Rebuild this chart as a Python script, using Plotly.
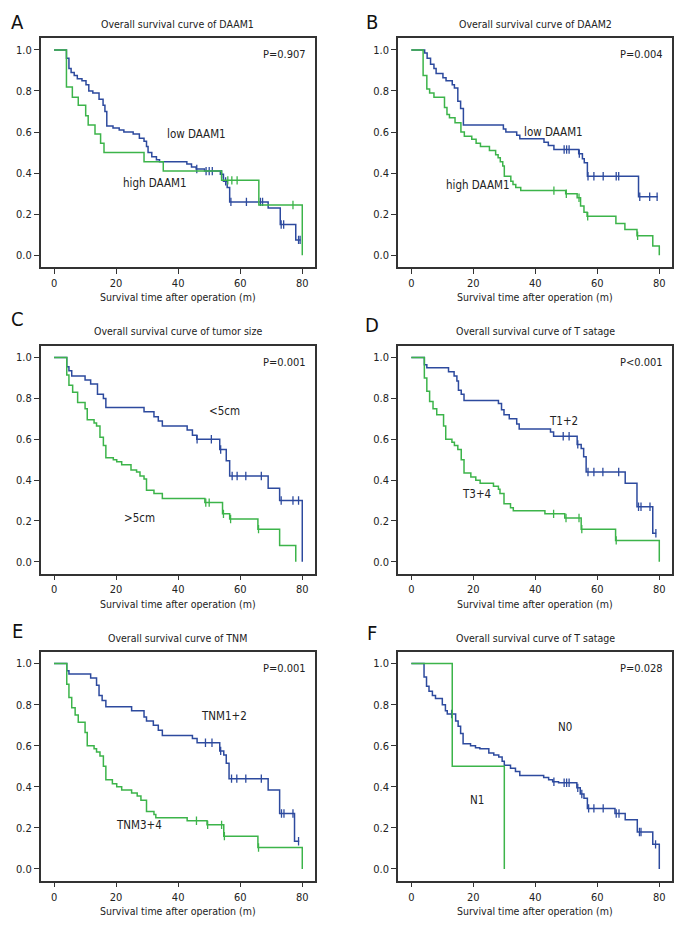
import numpy as np
import plotly.graph_objects as go
from plotly.subplots import make_subplots

# ---------------- data ----------------
# Panel A: DAAM1
a_low_t = [0, 4.0, 4.8, 5.5, 6.5, 7.5, 9.0, 10.3, 11.2, 12.5, 14.5, 15.8, 16.4, 17.0, 19.0, 21.0, 22.5, 25.5, 27.5, 29.0, 29.8, 30.3, 31.5, 33.0, 34.0, 42.8, 44.3, 45.8, 48.5, 53.6, 54.6, 55.8, 56.6, 69.0, 72.9, 77.9, 79.5]
a_low_s = [1.0, 0.96, 0.91, 0.89, 0.875, 0.86, 0.85, 0.83, 0.80, 0.79, 0.76, 0.73, 0.70, 0.63, 0.62, 0.61, 0.60, 0.59, 0.57, 0.555, 0.53, 0.50, 0.48, 0.465, 0.455, 0.445, 0.43, 0.42, 0.41, 0.395, 0.36, 0.33, 0.26, 0.23, 0.15, 0.075, 0.075]
a_low_c = [46.0, 49.0, 50.0, 51.0, 54.0, 55.3, 57.0, 62.0, 66.5, 67.2, 73.2, 74.0, 78.8, 79.3]
a_high_t = [0, 4.0, 5.9, 7.8, 10.2, 11.0, 13.2, 15.0, 16.1, 29.0, 35.2, 54.0, 66.0, 80.0]
a_high_s = [1.0, 0.82, 0.77, 0.73, 0.68, 0.635, 0.59, 0.545, 0.50, 0.455, 0.41, 0.365, 0.245, 0.0]
a_high_c = [56.0, 57.3, 59.0, 77.0]

# Panel B: DAAM2
b_low_t = [0, 4.3, 5.1, 6.2, 7.3, 8.0, 10.2, 11.2, 13.2, 13.9, 15.0, 15.9, 16.8, 29.7, 30.5, 34.0, 35.0, 42.8, 44.2, 46.0, 54.0, 55.2, 55.8, 56.8, 73.3, 79.5]
b_low_s = [1.0, 0.985, 0.96, 0.93, 0.91, 0.885, 0.865, 0.85, 0.83, 0.815, 0.75, 0.715, 0.635, 0.615, 0.60, 0.585, 0.567, 0.55, 0.535, 0.515, 0.495, 0.47, 0.45, 0.385, 0.285, 0.285]
b_low_c = [49.3, 50.1, 50.9, 54.2, 57.0, 58.9, 61.9, 66.1, 66.9, 73.7, 76.9, 79.3]
b_high_t = [0, 3.8, 5.0, 5.9, 7.3, 10.7, 11.5, 12.3, 14.1, 16.0, 17.1, 19.5, 20.9, 22.3, 25.2, 27.2, 28.0, 28.7, 29.5, 30.0, 32.1, 32.8, 33.7, 35.3, 49.8, 53.5, 54.6, 55.7, 56.7, 66.0, 68.9, 72.8, 77.9, 80.0]
b_high_s = [1.0, 0.875, 0.81, 0.79, 0.77, 0.72, 0.685, 0.67, 0.645, 0.60, 0.58, 0.565, 0.545, 0.53, 0.51, 0.49, 0.475, 0.455, 0.435, 0.385, 0.36, 0.345, 0.33, 0.315, 0.30, 0.28, 0.24, 0.21, 0.19, 0.155, 0.125, 0.095, 0.045, 0.0]
b_high_c = [46.0, 50.0, 54.1, 56.9, 73.0]

# Panel C: tumor size
c_small_t = [0, 4.1, 4.8, 5.7, 10.0, 11.8, 14.0, 15.9, 16.7, 29.0, 32.2, 33.6, 34.9, 42.9, 44.6, 46.0, 53.4, 55.5, 56.6, 69.0, 72.7, 80.0]
c_small_s = [1.0, 0.955, 0.935, 0.91, 0.89, 0.87, 0.82, 0.80, 0.755, 0.735, 0.71, 0.69, 0.665, 0.645, 0.62, 0.60, 0.55, 0.495, 0.42, 0.36, 0.30, 0.0]
c_small_c = [46.1, 50.7, 53.7, 57.4, 59.0, 61.8, 66.8, 73.2, 77.0, 78.8]
c_large_t = [0, 4.1, 4.8, 6.0, 7.6, 10.0, 10.7, 12.9, 13.7, 14.8, 15.9, 16.7, 19.1, 20.2, 21.8, 24.8, 26.6, 27.7, 29.0, 29.8, 32.2, 34.9, 48.6, 54.3, 56.6, 65.7, 72.7, 77.9]
c_large_s = [1.0, 0.915, 0.865, 0.83, 0.78, 0.75, 0.695, 0.68, 0.665, 0.61, 0.57, 0.51, 0.50, 0.49, 0.475, 0.45, 0.44, 0.42, 0.405, 0.35, 0.335, 0.31, 0.29, 0.235, 0.21, 0.16, 0.08, 0.0]
c_large_c = [48.9, 50.0, 54.6, 56.9, 65.9]

# Panel D: T stage
d_t12_t = [0, 4.2, 5.0, 12.0, 13.8, 14.7, 15.2, 16.1, 17.0, 28.1, 29.1, 29.9, 31.6, 34.0, 34.8, 44.9, 45.9, 53.5, 54.8, 55.6, 56.4, 69.0, 72.8, 77.9, 79.0]
d_t12_s = [1.0, 0.965, 0.95, 0.93, 0.91, 0.885, 0.84, 0.82, 0.79, 0.775, 0.745, 0.72, 0.70, 0.675, 0.65, 0.635, 0.615, 0.575, 0.555, 0.515, 0.44, 0.385, 0.27, 0.14, 0.14]
d_t12_c = [49.0, 50.9, 53.7, 57.0, 58.9, 61.8, 66.9, 73.3, 74.1, 77.0, 78.9]
d_t34_t = [0, 4.2, 5.0, 5.9, 7.0, 8.2, 10.4, 11.1, 13.1, 13.9, 15.0, 16.1, 17.0, 19.2, 20.8, 22.2, 26.5, 28.1, 28.6, 29.9, 32.0, 32.9, 43.1, 49.5, 54.8, 65.9, 80.0]
d_t34_s = [1.0, 0.90, 0.835, 0.785, 0.75, 0.72, 0.665, 0.60, 0.585, 0.57, 0.55, 0.50, 0.435, 0.415, 0.40, 0.385, 0.37, 0.355, 0.335, 0.285, 0.265, 0.25, 0.235, 0.215, 0.16, 0.105, 0.0]
d_t34_c = [45.9, 49.9, 54.1, 55.0, 66.1]

# Panel E: TNM
e_12_t = [0, 4.1, 4.8, 11.8, 13.7, 14.5, 15.5, 16.7, 25.0, 29.0, 29.8, 32.0, 33.6, 34.9, 44.6, 46.1, 53.4, 54.7, 55.5, 56.4, 69.0, 72.7, 77.5, 79.0]
e_12_s = [1.0, 0.965, 0.95, 0.93, 0.895, 0.845, 0.82, 0.79, 0.77, 0.74, 0.72, 0.70, 0.675, 0.65, 0.635, 0.615, 0.575, 0.555, 0.515, 0.44, 0.385, 0.27, 0.135, 0.135]
e_12_c = [48.8, 50.9, 53.7, 57.2, 58.9, 61.8, 66.8, 73.3, 74.1, 77.0, 78.8]
e_34_t = [0, 4.1, 4.8, 5.7, 6.8, 7.8, 10.0, 10.7, 12.9, 13.7, 14.8, 15.9, 16.7, 18.8, 20.2, 21.8, 25.0, 26.8, 28.0, 29.8, 32.2, 32.8, 42.9, 49.3, 54.7, 65.7, 80.0]
e_34_s = [1.0, 0.90, 0.835, 0.785, 0.75, 0.715, 0.665, 0.60, 0.585, 0.57, 0.55, 0.50, 0.435, 0.415, 0.40, 0.385, 0.37, 0.355, 0.335, 0.28, 0.265, 0.25, 0.235, 0.215, 0.16, 0.105, 0.0]
e_34_c = [45.9, 49.5, 54.0, 54.9, 65.9]

# Panel F: N stage
f_n0_t = [0, 4.1, 4.9, 5.7, 6.8, 7.8, 10.0, 11.0, 11.6, 14.3, 15.1, 15.9, 16.7, 19.1, 20.7, 22.1, 25.0, 26.6, 28.2, 29.3, 30.0, 32.0, 33.6, 35.0, 42.7, 44.3, 45.6, 47.5, 53.4, 54.5, 55.7, 56.8, 65.7, 69.0, 72.9, 77.9, 80.0]
f_n0_s = [1.0, 0.935, 0.89, 0.865, 0.845, 0.83, 0.80, 0.77, 0.755, 0.72, 0.695, 0.66, 0.61, 0.60, 0.59, 0.585, 0.565, 0.555, 0.545, 0.525, 0.505, 0.49, 0.475, 0.455, 0.445, 0.435, 0.425, 0.42, 0.395, 0.365, 0.345, 0.295, 0.27, 0.24, 0.18, 0.12, 0.0]
f_n0_c = [13.0, 46.0, 49.3, 50.1, 50.9, 53.7, 55.0, 57.2, 58.9, 61.9, 66.1, 67.0, 73.6, 74.1, 78.8]
f_n1_t = [0, 13.2, 30.0]
f_n1_s = [1.0, 0.5, 0.0]
f_n1_c = []

panel_letters = ["A", "B", "C", "D", "E", "F"]
panel_titles = ["Overall survival curve of DAAM1", "Overall survival curve of DAAM2",
                "Overall survival curve of tumor size", "Overall survival curve of T satage",
                "Overall survival curve of TNM", "Overall survival curve of T satage"]
p_values = ["P=0.907", "P=0.004", "P=0.001", "P<0.001", "P=0.001", "P=0.028"]
blue_labels = ["low DAAM1", "low DAAM1", "<5cm", "T1+2", "TNM1+2", "N0"]
green_labels = ["high DAAM1", "high DAAM1", ">5cm", "T3+4", "TNM3+4", "N1"]
blue_label_pos = [(45.9, 0.593), (45.8, 0.598), (55.0, 0.738), (49.2, 0.688), (54.7, 0.743), (49.7, 0.692)]
green_label_pos = [(32.5, 0.352), (21.4, 0.342), (27.7, 0.215), (21.1, 0.33), (27.5, 0.215), (21.2, 0.335)]
x_ticks = [0, 20, 40, 60, 80]
y_ticks = [0.0, 0.2, 0.4, 0.6, 0.8, 1.0]
x_title = "Survival time after operation (m)"

blue_series = [(a_low_t, a_low_s, a_low_c), (b_low_t, b_low_s, b_low_c), (c_small_t, c_small_s, c_small_c),
               (d_t12_t, d_t12_s, d_t12_c), (e_12_t, e_12_s, e_12_c), (f_n0_t, f_n0_s, f_n0_c)]
green_series = [(a_high_t, a_high_s, a_high_c), (b_high_t, b_high_s, b_high_c), (c_large_t, c_large_s, c_large_c),
                (d_t34_t, d_t34_s, d_t34_c), (e_34_t, e_34_s, e_34_c), (f_n1_t, f_n1_s, f_n1_c)]

# ---------------- style ----------------
BLUE = "#2D4A9E"
GREEN = "#3CB44A"
FONT = "DejaVu Sans Condensed, Liberation Sans Narrow, Arial Narrow, sans-serif"
PAGE_W, PAGE_H = 696, 936
OFF = 8  # default page body margin
W, H = PAGE_W - 2 * OFF, PAGE_H - 2 * OFF


def px(X):
    return (X - OFF) / W


def py(Y):
    return 1 - (Y - OFF) / H


x_boxes = [(40.7, 315), (398, 672)]
y_boxes = [(38, 267), (345.7, 573.5), (651.7, 880.7)]  # top,bottom pixel
title_y = [24, 331, 637.7]
letter_y = [[22.5, 21.5], [319, 325.5], [631, 632.5]]
letter_x = [17, 372]

fig = make_subplots(rows=3, cols=2)


def add_km(fig, t, s, c, color, row, col):
    t = np.asarray(t, float)
    s = np.asarray(s, float)
    fig.add_trace(go.Scatter(x=t, y=s, mode="lines", line=dict(color=color, width=1.5, shape="hv"),
                             showlegend=False, hoverinfo="skip"), row=row, col=col)
    if len(c):
        c = np.asarray(c, float)
        idx = np.searchsorted(t, c, side="right") - 1
        fig.add_trace(go.Scatter(x=c, y=s[idx], mode="markers",
                                 marker=dict(symbol="line-ns", size=6, color=color,
                                             line=dict(color=color, width=1.3)),
                                 showlegend=False, hoverinfo="skip"), row=row, col=col)


annotations = []
for i in range(6):
    r, cidx = i // 2, i % 2
    row, col = r + 1, cidx + 1
    add_km(fig, *blue_series[i], BLUE, row, col)
    add_km(fig, *green_series[i], GREEN, row, col)
    top, bot = y_boxes[r]
    left, right = x_boxes[cidx]
    axn = "" if i == 0 else str(i + 1)
    fig.layout["xaxis" + axn].update(domain=[px(left), px(right)])
    fig.layout["yaxis" + axn].update(domain=[py(bot), py(top)])
    fig.update_xaxes(range=[-4.3, 84.1], tickvals=x_ticks, ticks="outside", ticklen=5, tickwidth=1.2,
                     tickcolor="#333", showline=True, mirror=True, linecolor="#333", linewidth=1.5,
                     showgrid=False, zeroline=False, automargin=False,
                     tickfont=dict(size=11, color="#222", family=FONT), row=row, col=col)
    fig.update_yaxes(range=[-0.057, 1.058], tickvals=y_ticks, tickformat=".1f", ticks="outside", ticklen=5,
                     tickwidth=1.2, tickcolor="#333", showline=True, mirror=True, linecolor="#333", linewidth=1.5,
                     showgrid=False, zeroline=False, automargin=False,
                     tickfont=dict(size=11, color="#222", family=FONT), row=row, col=col)
    xref = "x" + axn
    yref = "y" + axn
    xc = px((left + right) / 2)
    annotations.append(dict(text=panel_titles[i], x=xc, y=py(title_y[r]), xref="paper", yref="paper",
                            showarrow=False, xanchor="center", yanchor="middle",
                            font=dict(size=10.5, color="#222", family=FONT)))
    annotations.append(dict(text=panel_letters[i], x=px(letter_x[cidx]), y=py(letter_y[r][cidx]),
                            xref="paper", yref="paper", showarrow=False, xanchor="center", yanchor="middle",
                            font=dict(size=20, color="#111", family=FONT)))
    annotations.append(dict(text=x_title, x=xc, y=py(bot + 30), xref="paper", yref="paper",
                            showarrow=False, xanchor="center", yanchor="middle",
                            font=dict(size=10.5, color="#222", family=FONT)))
    annotations.append(dict(text=p_values[i], x=74.3, y=0.978, xref=xref, yref=yref, showarrow=False,
                            xanchor="center", yanchor="middle", font=dict(size=11, color="#222", family=FONT)))
    annotations.append(dict(text=blue_labels[i], x=blue_label_pos[i][0], y=blue_label_pos[i][1], xref=xref,
                            yref=yref, showarrow=False, xanchor="center", yanchor="middle",
                            font=dict(size=11.5, color="#222", family=FONT)))
    annotations.append(dict(text=green_labels[i], x=green_label_pos[i][0], y=green_label_pos[i][1], xref=xref,
                            yref=yref, showarrow=False, xanchor="center", yanchor="middle",
                            font=dict(size=11.5, color="#222", family=FONT)))

fig.update_layout(width=W, height=H, margin=dict(l=0, r=0, t=0, b=0, autoexpand=False), paper_bgcolor="white",
                  plot_bgcolor="white", annotations=annotations, showlegend=False)

fig.write_html("out.html")
